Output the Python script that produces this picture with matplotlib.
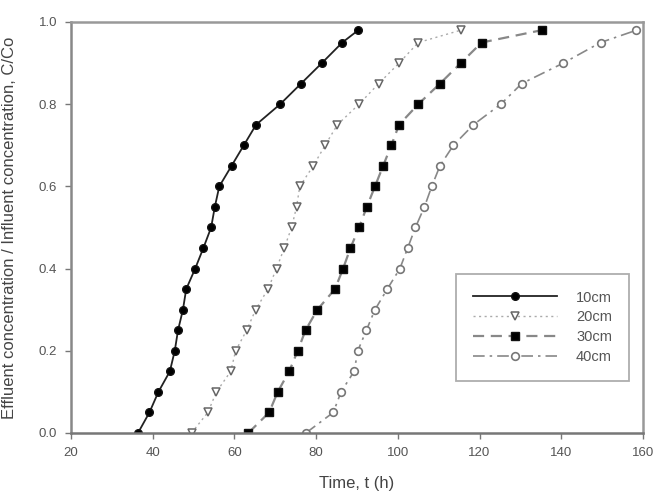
import matplotlib
matplotlib.use("Agg")
import matplotlib.pyplot as plt

plt.rcParams["font.family"] = ["Liberation Sans", "DejaVu Sans"]

conc = [0.0, 0.05, 0.10, 0.15, 0.20, 0.25, 0.30, 0.35, 0.40, 0.45, 0.50,
        0.55, 0.60, 0.65, 0.70, 0.75, 0.80, 0.85, 0.90, 0.95, 0.98]

t_10cm = [36.4, 39.2, 41.4, 44.2, 45.4, 46.2, 47.4, 48.2, 50.4, 52.4, 54.3,
          55.2, 56.3, 59.3, 62.3, 65.3, 71.2, 76.3, 81.4, 86.4, 90.3]
t_20cm = [49.5, 53.5, 55.6, 59.1, 60.3, 63.0, 65.2, 68.2, 70.3, 72.2, 74.0,
          75.2, 76.0, 79.3, 82.2, 85.2, 90.5, 95.3, 100.3, 105.0, 115.4]
t_30cm = [63.4, 68.5, 70.6, 73.4, 75.5, 77.4, 80.3, 84.6, 86.6, 88.4, 90.5,
          92.4, 94.4, 96.4, 98.4, 100.3, 105.0, 110.3, 115.4, 120.5, 135.2]
t_40cm = [77.5, 84.2, 86.1, 89.3, 90.2, 92.3, 94.4, 97.4, 100.5, 102.4, 104.3,
          106.5, 108.3, 110.3, 113.6, 118.5, 125.2, 130.3, 140.5, 149.6, 158.4]

labels = ["10cm", "20cm", "30cm", "40cm"]

fig = plt.figure(figsize=(6.53, 4.95), dpi=100)
ax = fig.add_axes([0.1087, 0.1253, 0.876, 0.8303])

ax.plot(t_10cm, conc, color="#222222", lw=1.3, ls="-", marker="o", ms=5.5,
        mfc="black", mec="#111111", label=labels[0])
ax.plot(t_20cm, conc, color="#aaaaaa", lw=1.0, ls=(0, (1.5, 2.5)), marker="v", ms=5.5,
        mfc="white", mec="#666666", mew=1.1, label=labels[1])
ax.plot(t_30cm, conc, color="#888888", lw=1.6, ls=(0, (5, 3)), marker="s", ms=5.5,
        mfc="black", mec="#111111", label=labels[2])
ax.plot(t_40cm, conc, color="#888888", lw=1.2, ls=(0, (7, 3, 1.5, 3)), marker="o", ms=5.5,
        mfc="white", mec="#777777", mew=1.2, label=labels[3])

ax.set_xlim(20, 160)
ax.set_ylim(0, 1.0)
ax.set_xticks(range(20, 161, 20))
ax.set_yticks([0.0, 0.2, 0.4, 0.6, 0.8, 1.0])
ax.set_yticklabels([f"{v:.1f}" for v in [0.0, 0.2, 0.4, 0.6, 0.8, 1.0]])

for s in ax.spines.values():
    s.set_color("#999999")
    s.set_linewidth(1.8)
ax.spines["bottom"].set_color("#777777")
ax.spines["left"].set_color("#888888")
ax.tick_params(direction="out", length=4, width=1, color="#777777",
               labelcolor="#555555", labelsize=9.5, pad=6)

ax.set_xlabel("Time, t (h)", fontsize=12, color="#444444")
ax.set_ylabel("Effluent concentration / Influent concentration, C/Co",
              fontsize=12, color="#444444")
ax.yaxis.set_label_coords(-0.095, 0.5)
ax.xaxis.set_label_coords(0.5, -0.105)

leg = ax.legend(loc="upper left", bbox_to_anchor=(0.66, 0.405), frameon=True,
                fancybox=False, edgecolor="#999999", fontsize=10.5,
                labelcolor="#555555", markerfirst=True, handlelength=5.8,
                borderpad=1.15, labelspacing=0.4, handletextpad=1.3)
leg.get_frame().set_linewidth(1.3)

fig.savefig("out.png", dpi=100)
